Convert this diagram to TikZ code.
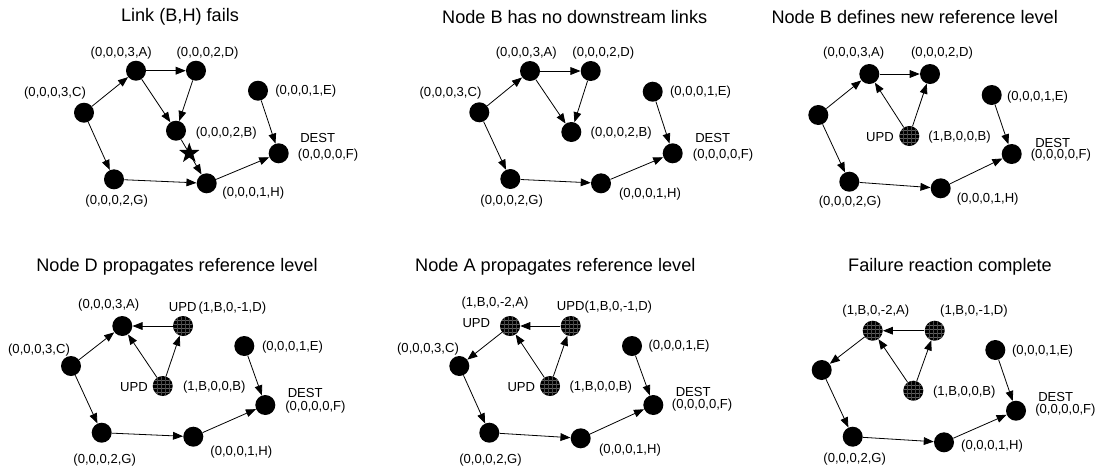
\documentclass[tikz,border=0pt]{standalone}
\usepackage{fontspec}
\setmainfont{Liberation Sans}
\usetikzlibrary{arrows.meta,shapes.geometric}
\tikzset{
  nd/.style={circle, fill=black, minimum size=15pt, inner sep=0pt},
  updnd/.style={circle, fill=black, minimum size=15pt, inner sep=0pt,
    path picture={
      \foreach \k in {-4.5,-1.5,1.5,4.5}{
        \draw[black!62, line width=0.2pt]
          ([yshift=\k pt]path picture bounding box.west) --
          ([yshift=\k pt]path picture bounding box.east);}
      \foreach \k in {-4.5,-1.5,1.5,4.5}{
        \draw[black!72, line width=0.2pt]
          ([xshift=\k pt]path picture bounding box.north) --
          ([xshift=\k pt]path picture bounding box.south);}
    }},
  lab/.style={font=\fontsize{9.8}{11}\selectfont, inner sep=0pt},
  labw/.style={lab, anchor=west},
  ttl/.style={font=\fontsize{13.6}{16}\selectfont, inner sep=0pt},
  arr/.style={-{Triangle[length=7.5pt,width=5.8pt]}, line width=0.6pt},
  cutmark/.style={star, star points=5, star point ratio=2.5, fill=black,
                  minimum size=16pt, inner sep=0pt}
}
\begin{document}
\begin{tikzpicture}[x=0.75pt, y=-0.75pt]
\useasboundingbox (0,0) rectangle (1099,472);

% ---------- Link (B,H) fails ----------
\node[ttl] (t1) at (180,17) {Link (B,H) fails};
\node[nd] (a1) at (136,70.7) {};
\node[nd] (d1) at (196,70.7) {};
\node[nd] (c1) at (84,112.7) {};
\node[nd] (b1) at (176,130.7) {};
\node[nd] (e1) at (258,90.7) {};
\node[nd] (f1) at (278.7,153.3) {};
\node[nd] (g1) at (114,179.3) {};
\node[nd] (h1) at (206.7,183.3) {};
\draw[arr] (c1) -- (a1);
\draw[arr] (a1) -- (d1);
\draw[arr] (a1) -- (b1);
\draw[arr] (d1) -- (b1);
\draw[arr] (b1) -- (h1);
\draw[arr] (c1) -- (g1);
\draw[arr] (g1) -- (h1);
\draw[arr] (h1) -- (f1);
\draw[arr] (e1) -- (f1);
\node[cutmark] (x1) at (189.3,153.3) {};
\node[lab] (la1) at (121.2,53.3) {(0,0,0,3,A)};
\node[lab] (ld1) at (207.5,53.3) {(0,0,0,2,D)};
\node[lab] (lc1) at (55,92.7) {(0,0,0,3,C)};
\node[lab] (le1) at (305.8,90.7) {(0,0,0,1,E)};
\node[lab] (lb1) at (226.3,133.3) {(0,0,0,2,B)};
\node[labw] (ldest1) at (300,138.3) {DEST};
\node[labw] (lf1) at (297.7,155) {(0,0,0,0,F)};
\node[lab] (lg1) at (116.7,201) {(0,0,0,2,G)};
\node[lab] (lh1) at (253.3,193.3) {(0,0,0,1,H)};

% ---------- Node B has no downstream links ----------
\node[ttl] (t2) at (574.7,17) {Node B has no downstream links};
\node[nd] (a2) at (530,71) {};
\node[nd] (d2) at (590.7,71) {};
\node[nd] (c2) at (479.3,112.3) {};
\node[nd] (b2) at (571.3,132) {};
\node[nd] (e2) at (652.7,91.7) {};
\node[nd] (f2) at (672.7,153.3) {};
\node[nd] (g2) at (510.3,179) {};
\node[nd] (h2) at (601,183.3) {};
\draw[arr] (c2) -- (a2);
\draw[arr] (a2) -- (d2);
\draw[arr] (a2) -- (b2);
\draw[arr] (d2) -- (b2);
\draw[arr] (c2) -- (g2);
\draw[arr] (g2) -- (h2);
\draw[arr] (h2) -- (f2);
\draw[arr] (e2) -- (f2);
\node[lab] (la2) at (526.3,52.7) {(0,0,0,3,A)};
\node[lab] (ld2) at (603.3,52.7) {(0,0,0,2,D)};
\node[lab] (lc2) at (450.5,92.7) {(0,0,0,3,C)};
\node[lab] (le2) at (700.5,92) {(0,0,0,1,E)};
\node[lab] (lb2) at (621.2,133.3) {(0,0,0,2,B)};
\node[labw] (ldest2) at (695,138.3) {DEST};
\node[labw] (lf2) at (692.7,155) {(0,0,0,0,F)};
\node[lab] (lg2) at (511.7,201) {(0,0,0,2,G)};
\node[lab] (lh2) at (650,194.3) {(0,0,0,1,H)};

% ---------- Node B defines new reference level ----------
\node[ttl] (t3) at (914.7,17) {Node B defines new reference level};
\node[nd] (a3) at (869.3,74) {};
\node[nd] (d3) at (930,74) {};
\node[nd] (c3) at (818.3,115) {};
\node[updnd] (b3) at (909.3,136) {};
\node[nd] (e3) at (991.7,95) {};
\node[nd] (f3) at (1011.7,154) {};
\node[nd] (g3) at (849.3,181.7) {};
\node[nd] (h3) at (940.7,188.3) {};
\draw[arr] (c3) -- (a3);
\draw[arr] (a3) -- (d3);
\draw[arr] (b3) -- (a3);
\draw[arr] (b3) -- (d3);
\draw[arr] (c3) -- (g3);
\draw[arr] (g3) -- (h3);
\draw[arr] (h3) -- (f3);
\draw[arr] (e3) -- (f3);
\node[lab] (la3) at (853.7,53.3) {(0,0,0,3,A)};
\node[lab] (ld3) at (942,53.3) {(0,0,0,2,D)};
\node[lab] (le3) at (1037.5,96.7) {(0,0,0,1,E)};
\node[lab] (lu3) at (880,136.7) {UPD};
\node[lab] (lb3) at (959.5,136.7) {(1,B,0,0,B)};
\node[labw] (ldest3) at (1035,142.7) {DEST};
\node[labw] (lf3) at (1030.5,155.3) {(0,0,0,0,F)};
\node[lab] (lg3) at (850,201.7) {(0,0,0,2,G)};
\node[lab] (lh3) at (987.7,199.3) {(0,0,0,1,H)};

% ---------- Node D propagates reference level ----------
\node[ttl] (t4) at (177,267.3) {Node D propagates reference level};
\node[nd] (a4) at (122.3,326) {};
\node[updnd] (d4) at (183,326) {};
\node[nd] (c4) at (71,366) {};
\node[updnd] (b4) at (162.7,386) {};
\node[nd] (e4) at (244.3,346) {};
\node[nd] (f4) at (265.3,405) {};
\node[nd] (g4) at (101.7,432.7) {};
\node[nd] (h4) at (193.3,436.7) {};
\draw[arr] (c4) -- (a4);
\draw[arr] (d4) -- (a4);
\draw[arr] (b4) -- (a4);
\draw[arr] (b4) -- (d4);
\draw[arr] (c4) -- (g4);
\draw[arr] (g4) -- (h4);
\draw[arr] (h4) -- (f4);
\draw[arr] (e4) -- (f4);
\node[lab] (la4) at (108.7,305) {(0,0,0,3,A)};
\node[lab] (ld4) at (217.5,308.3) {UPD\,(1,B,0,-1,D)};
\node[lab] (lc4) at (39,350) {(0,0,0,3,C)};
\node[lab] (le4) at (292.5,347.3) {(0,0,0,1,E)};
\node[lab] (lu4) at (134,386.7) {UPD};
\node[lab] (lb4) at (214.3,386.7) {(1,B,0,0,B)};
\node[labw] (ldest4) at (287.5,393.3) {DEST};
\node[labw] (lf4) at (285,406.7) {(0,0,0,0,F)};
\node[lab] (lg4) at (104.7,460) {(0,0,0,2,G)};
\node[lab] (lh4) at (241.3,451.7) {(0,0,0,1,H)};

% ---------- Node A propagates reference level ----------
\node[ttl] (t5) at (555.3,267.3) {Node A propagates reference level};
\node[updnd] (a5) at (510,326) {};
\node[updnd] (d5) at (570.7,326) {};
\node[nd] (c5) at (459.3,366) {};
\node[updnd] (b5) at (550,386) {};
\node[nd] (e5) at (632,346) {};
\node[nd] (f5) at (653.3,405) {};
\node[nd] (g5) at (489.3,432.7) {};
\node[nd] (h5) at (580.7,438.3) {};
\draw[arr] (a5) -- (c5);
\draw[arr] (d5) -- (a5);
\draw[arr] (b5) -- (a5);
\draw[arr] (b5) -- (d5);
\draw[arr] (c5) -- (g5);
\draw[arr] (g5) -- (h5);
\draw[arr] (h5) -- (f5);
\draw[arr] (e5) -- (f5);
\node[lab] (la5) at (495,303.3) {(1,B,0,-2,A)};
\node[lab] (lua5) at (476.3,323.3) {UPD};
\node[lab] (ld5) at (604.5,306.7) {UPD(1,B,0,-1,D)};
\node[lab] (lc5) at (428,349.3) {(0,0,0,3,C)};
\node[lab] (le5) at (679,346) {(0,0,0,1,E)};
\node[lab] (lu5) at (521.3,386.7) {UPD};
\node[lab] (lb5) at (600.8,386.7) {(1,B,0,0,B)};
\node[labw] (ldest5) at (675.5,391.7) {DEST};
\node[labw] (lf5) at (671.7,405) {(0,0,0,0,F)};
\node[lab] (lg5) at (490.5,460) {(0,0,0,2,G)};
\node[lab] (lh5) at (630,450) {(0,0,0,1,H)};

% ---------- Failure reaction complete ----------
\node[ttl] (t6) at (950,267.3) {Failure reaction complete};
\node[updnd] (a6) at (872.7,330.7) {};
\node[updnd] (d6) at (934.7,330.7) {};
\node[nd] (c6) at (821.7,370) {};
\node[updnd] (b6) at (913.3,390.7) {};
\node[nd] (e6) at (995.3,350) {};
\node[nd] (f6) at (1016,410.7) {};
\node[nd] (g6) at (852.7,436.7) {};
\node[nd] (h6) at (944,442.3) {};
\draw[arr] (a6) -- (c6);
\draw[arr] (d6) -- (a6);
\draw[arr] (b6) -- (a6);
\draw[arr] (b6) -- (d6);
\draw[arr] (c6) -- (g6);
\draw[arr] (g6) -- (h6);
\draw[arr] (h6) -- (f6);
\draw[arr] (e6) -- (f6);
\node[lab] (la6) at (875.8,310.7) {(1,B,0,-2,A)};
\node[lab] (ld6) at (974,310.7) {(1,B,0,-1,D)};
\node[lab] (le6) at (1042.5,350.7) {(0,0,0,1,E)};
\node[lab] (lb6) at (964.3,391.7) {(1,B,0,0,B)};
\node[labw] (ldest6) at (1038,396.7) {DEST};
\node[labw] (lf6) at (1035,410) {(0,0,0,0,F)};
\node[lab] (lg6) at (854.7,459) {(0,0,0,2,G)};
\node[lab] (lh6) at (992,446) {(0,0,0,1,H)};
\end{tikzpicture}
\end{document}
